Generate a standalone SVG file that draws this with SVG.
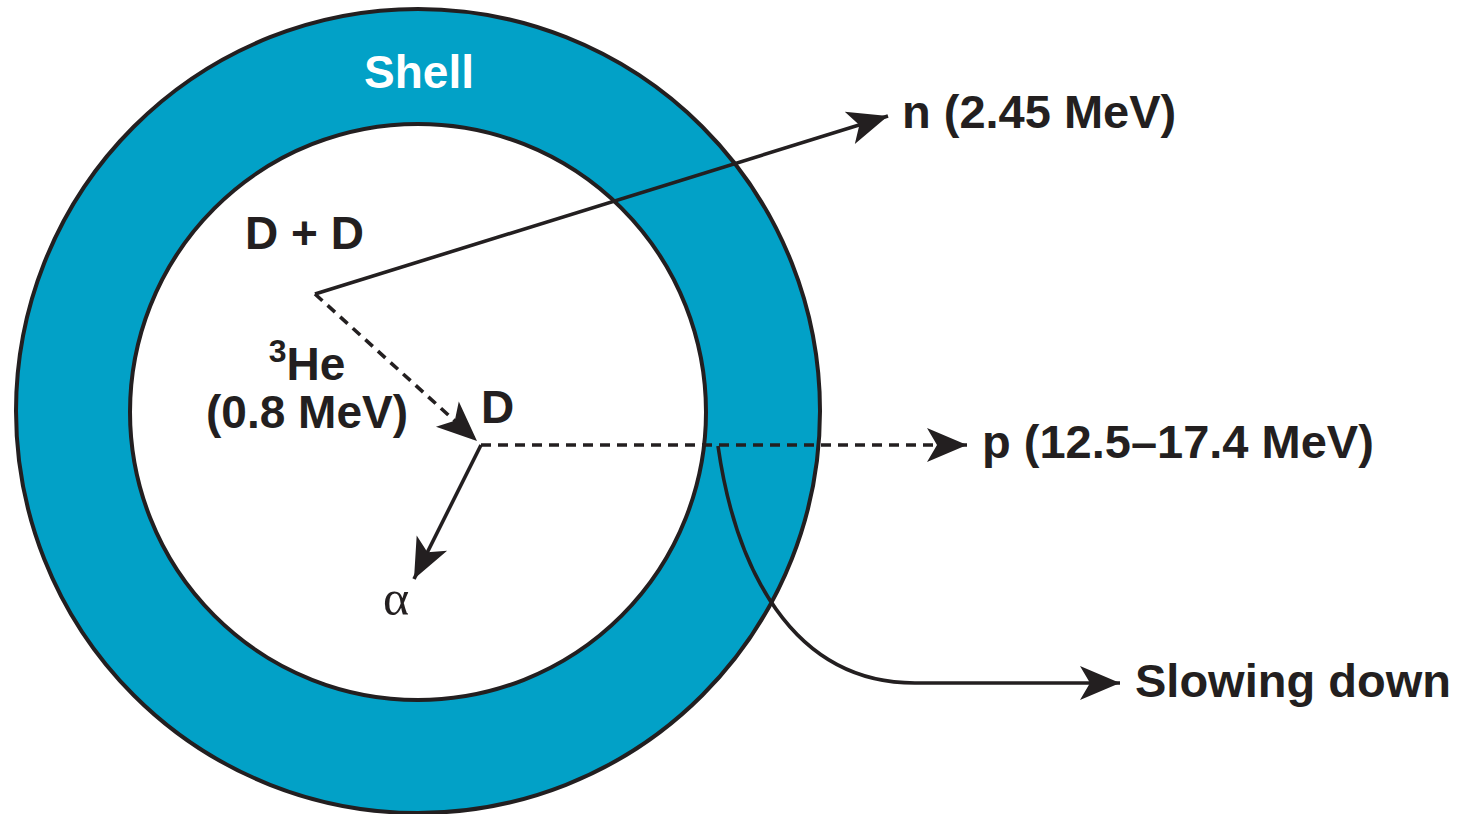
<svg xmlns="http://www.w3.org/2000/svg" width="1461" height="814" viewBox="0 0 1461 814">
<style>
.lbl{font-family:"Liberation Sans",Arial,sans-serif;font-weight:bold;fill:#231f20;font-size:46px}
.ln{fill:none;stroke:#231f20;stroke-width:3.6}
.dash{stroke-dasharray:10 7}
</style>
<defs>
<marker id="ah" markerUnits="userSpaceOnUse" markerWidth="48" markerHeight="44" viewBox="-42 -22 48 44" refX="0" refY="0" orient="auto">
<path d="M0,0 L-40,-17 L-30,0 L-40,17 Z" fill="#231f20"/>
</marker>
</defs>
<g id="shell">
<circle cx="418" cy="411" r="402" fill="#02a1c7" stroke="#231f20" stroke-width="4"/>
<circle cx="418" cy="412" r="288" fill="#ffffff" stroke="#231f20" stroke-width="4"/>
<text x="419" y="88" text-anchor="middle" class="lbl" style="fill:#ffffff">Shell</text>
</g>
<g id="connectors">
<path class="ln" d="M315,294 L888,116" marker-end="url(#ah)"/>
<path class="ln dash" d="M315,294 L477,441" marker-end="url(#ah)"/>
<path class="ln dash" d="M481,445 L967,445" marker-end="url(#ah)"/>
<path class="ln" d="M481,445 L414,579" marker-end="url(#ah)"/>
<path class="ln" d="M718,446 C735,565 790,683 915,683 L1120,683" marker-end="url(#ah)"/>
</g>
<g id="dd"><text x="245" y="249" class="lbl">D + D</text></g>
<g id="he3"><text x="307" y="380" text-anchor="middle" class="lbl"><tspan style="font-size:32px" dy="-18">3</tspan><tspan dy="18">He</tspan></text>
<text x="307" y="428" text-anchor="middle" class="lbl">(0.8 MeV)</text></g>
<g id="d2"><text x="481" y="423" class="lbl">D</text></g>
<g id="alpha"><text x="396" y="615" text-anchor="middle" style="font-family:'Liberation Serif','Times New Roman',serif;font-size:50px;fill:#231f20">α</text></g>
<g id="n"><text x="902" y="128" class="lbl" style="font-size:47px">n (2.45 MeV)</text></g>
<g id="p"><text x="982" y="458" class="lbl" style="font-size:47px">p (12.5–17.4 MeV)</text></g>
<g id="slow"><text x="1135" y="697" class="lbl" style="font-size:47px">Slowing down</text></g>
</svg>
